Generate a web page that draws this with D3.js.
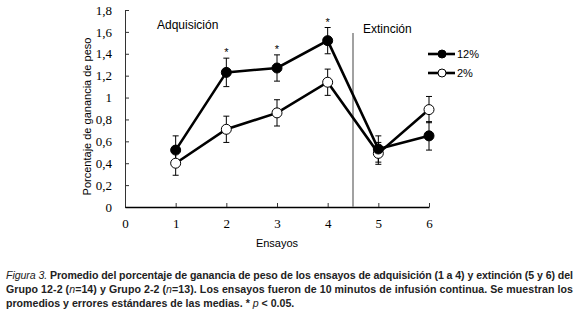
<!DOCTYPE html>
<html>
<head>
<meta charset="utf-8">
<script src="https://cdn.jsdelivr.net/npm/d3@7"></script>
<style>
  body { margin: 0; background: #fff; }
  svg { display: block; }
</style>
</head>
<body>
<svg id="chart" width="577" height="313"></svg>
<script>
let width = 577,
  height = 313

// data
let ensayos = [1, 2, 3, 4, 5, 6]
let mean12 = [0.52, 1.23, 1.27, 1.52, 0.53, 0.65]
let err12 = [0.13, 0.13, 0.12, 0.12, 0.12, 0.13]
let mean2 = [0.40, 0.71, 0.86, 1.14, 0.49, 0.89]
let err2 = [0.11, 0.12, 0.12, 0.12, 0.10, 0.12]
let signif = [2, 3, 4]
let yTicks = [0, 0.2, 0.4, 0.6, 0.8, 1, 1.2, 1.4, 1.6, 1.8]
let xTicks = [0, 1, 2, 3, 4, 5, 6]
let captionLines = [
  ["Figura 3.", " Promedio del porcentaje de ganancia de peso de los ensayos de adquisición (1 a 4) y extinción (5 y 6) del"],
  ["", "Grupo 12-2 (", "n", "=14) y Grupo 2-2 (", "n", "=13). Los ensayos fueron de 10 minutos de infusión continua. Se muestran los"],
  ["", "promedios y errores estándares de las medias. * ", "p", " < 0.05."]
]

let x = d3.scaleLinear().domain([0, 6]).range([125, 429])
let y = d3.scaleLinear().domain([0, 1.8]).range([207, 10])

let svg = d3.select("#chart")
let serif = "'Liberation Serif', 'DejaVu Serif', serif"
let sans = "'Liberation Sans', Arial, sans-serif"

// axes, ticks inside
let yAxis = svg.append("g")
  .attr("transform", `translate(${x(0)},0)`)
  .call(d3.axisLeft(y).tickValues(yTicks).tickSizeInner(-4).tickSizeOuter(0)
    .tickFormat(d => d3.format(".1f")(d).replace(".", ",").replace(/^1,0$/, "1").replace(/^0,0$/, "0")))
yAxis.selectAll("text").attr("x", -13).style("font-family", serif).style("font-size", "13px")
yAxis.select(".domain").attr("stroke", "#333")
yAxis.selectAll(".tick line").attr("stroke", "#333")

let xAxis = svg.append("g")
  .attr("transform", `translate(0,${y(0)})`)
  .call(d3.axisBottom(x).tickValues(xTicks).tickSizeInner(-4).tickSizeOuter(0).tickFormat(d3.format("d")))
xAxis.selectAll("text").attr("y", 12).style("font-family", serif).style("font-size", "13px")
xAxis.select(".domain").attr("stroke", "#000").attr("stroke-width", 1.3)
xAxis.selectAll(".tick line").attr("stroke", "#333")
xAxis.select(".tick line").remove()

// separator
svg.append("line")
  .attr("x1", x(4.5)).attr("x2", x(4.5))
  .attr("y1", 33).attr("y2", y(0))
  .attr("stroke", "#8a8a8a").attr("stroke-width", 1.6)

// error bars
function errorBars(means, errs) {
  let g = svg.append("g").attr("stroke", "#000").attr("stroke-width", 1)
  ensayos.forEach((e, i) => {
    let top = y(means[i] + errs[i]), bot = y(means[i] - errs[i])
    g.append("line").attr("x1", x(e)).attr("x2", x(e)).attr("y1", top).attr("y2", bot)
    g.append("line").attr("x1", x(e) - 3).attr("x2", x(e) + 3).attr("y1", top).attr("y2", top)
    g.append("line").attr("x1", x(e) - 3).attr("x2", x(e) + 3).attr("y1", bot).attr("y2", bot)
  })
}
errorBars(mean2, err2)
errorBars(mean12, err12)

let line = d3.line().x((d, i) => x(ensayos[i])).y(d => y(d))

function series(means, fill) {
  svg.append("path")
    .attr("d", line(means))
    .attr("fill", "none")
    .attr("stroke", "#000")
    .attr("stroke-width", 2.6)
  svg.append("g")
    .selectAll("circle")
    .data(means).enter()
    .append("circle")
    .attr("cx", (d, i) => x(ensayos[i]))
    .attr("cy", d => y(d))
    .attr("r", 5)
    .attr("fill", fill)
    .attr("stroke", "#000")
    .attr("stroke-width", 1)
}
series(mean2, "#fff")
series(mean12, "#000")

// significance stars
svg.append("g")
  .selectAll("text")
  .data(signif).enter()
  .append("text")
  .attr("x", d => x(d))
  .attr("y", d => y(mean12[d - 1] + err12[d - 1]) - 2)
  .attr("text-anchor", "middle")
  .style("font-family", sans)
  .style("font-size", "11px")
  .text("*")

// phase labels
svg.append("text").attr("x", 157).attr("y", 29)
  .style("font-family", sans).style("font-size", "12px").text("Adquisición")
svg.append("text").attr("x", 363).attr("y", 33)
  .style("font-family", sans).style("font-size", "12px").text("Extinción")

// legend
let legend = [["12%", "#000", 54], ["2%", "#fff", 73]]
legend.forEach(([label, fill, ly]) => {
  svg.append("line").attr("x1", 428).attr("x2", 455).attr("y1", ly).attr("y2", ly)
    .attr("stroke", "#000").attr("stroke-width", 2.6)
  svg.append("circle").attr("cx", 442).attr("cy", ly).attr("r", 4)
    .attr("fill", fill).attr("stroke", "#000")
  svg.append("text").attr("x", 457).attr("y", ly + 4)
    .style("font-family", sans).style("font-size", "11px").text(label)
})

// axis titles
svg.append("text")
  .attr("transform", `translate(91,${(y(0) + y(1.8)) / 2 + 8}) rotate(-90)`)
  .attr("text-anchor", "middle")
  .style("font-family", sans).style("font-size", "11px")
  .text("Porcentaje de ganancia de peso")
svg.append("text")
  .attr("x", 277).attr("y", 247)
  .attr("text-anchor", "middle")
  .style("font-family", sans).style("font-size", "11px")
  .text("Ensayos")

// caption
let capY = [279, 293, 307]
captionLines.forEach((parts, li) => {
  let t = svg.append("text")
    .attr("x", 6).attr("y", capY[li])
    .style("font-family", sans).style("font-size", "10.6px")
    .attr("fill", "#222")
  if (li < 2) t.attr("textLength", 567).attr("lengthAdjust", "spacing")
  parts.forEach((p, pi) => {
    let italic = (li === 0 && pi === 0) || p === "n" || p === "p"
    t.append("tspan").text(p)
      .style("font-style", italic ? "italic" : "normal")
      .style("font-weight", italic ? "normal" : "bold")
  })
})
</script>
</body>
</html>
